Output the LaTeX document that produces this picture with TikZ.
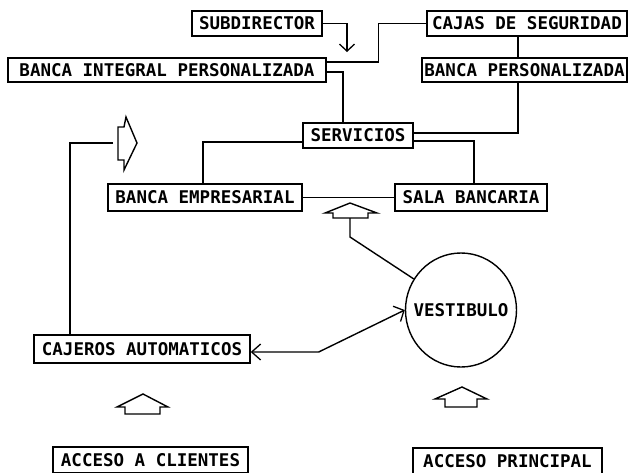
\documentclass[tikz,border=0pt]{standalone}
\usepackage{fontspec}
\setmonofont{DejaVu Sans Mono}
\usetikzlibrary{arrows.meta,shapes.geometric}
\begin{document}
\begin{tikzpicture}[x=1pt,y=-1pt,line width=1.4pt,
  every node/.style={font=\ttfamily\bfseries\fontsize{17.5}{20}\selectfont},
  box/.style={draw,inner sep=0pt,minimum height=25pt},
  barb/.style={-{Straight Barb[length=7pt,width=15pt,line width=1.3pt]}},
  dbarb/.style={{Straight Barb[length=9pt,width=16pt,line width=1.3pt]}-{Straight Barb[length=8pt,width=17pt,line width=1.3pt]}},
  blk/.style={line join=miter}]
\useasboundingbox (0,0) rectangle (630,472);
% boxes
\node[box,minimum width=130pt] (sub) at (257,23.5) {SUBDIRECTOR};
\node[box,minimum width=318pt,minimum height=24pt] (bip) at (167,70) {BANCA INTEGRAL PERSONALIZADA};
\node[box,minimum width=200pt] (cajas) at (527,23.5) {CAJAS DE SEGURIDAD};
\node[box,minimum width=205pt,minimum height=24pt] (bp) at (524.5,70) {BANCA PERSONALIZADA};
\node[box,minimum width=110pt] (serv) at (358,135.5) {SERVICIOS};
\node[box,minimum width=194pt,minimum height=27pt] (emp) at (205,197.5) {BANCA EMPRESARIAL};
\node[box,minimum width=152pt,minimum height=27pt] (sala) at (471,197.5) {SALA BANCARIA};
\node[draw,ellipse,inner sep=0pt,minimum width=111pt,minimum height=114pt,label={center:VESTIBULO}] (vest) at (461,310) {};
\node[box,minimum width=216pt,minimum height=28pt] (cajeros) at (142,349) {CAJEROS AUTOMATICOS};
\node[box,minimum width=195pt,minimum height=26pt] (acl) at (150.5,460) {ACCESO A CLIENTES};
\node[box,minimum width=189pt,minimum height=26pt] (apr) at (507.5,461) {ACCESO PRINCIPAL};
% free ends
\coordinate (subt) at (347,52);
\coordinate (ua) at (350,218);
\coordinate (la) at (113,143);
% connectors
\draw[barb] (sub.east) -| (subt);
\draw ([yshift=8pt]bip.east) -- ++(52,0) |- (cajas.west);
\draw ([yshift=-2pt]bip.east) -| ([xshift=-15pt]serv.north);
\draw (518,0 |- cajas.south) -- (518,0 |- bp.north);
\draw (518,0 |- bp.south) |- ([yshift=2.5pt]serv.east);
\draw ([yshift=-5.5pt]serv.east) -| (474,0 |- sala.north);
\draw ([yshift=-6.5pt]serv.west) -| (203,0 |- emp.north);
\draw (emp.east) -- (emp.east -| sala.west);
\draw (ua) -- ++(0,19) -- (vest);
\draw (la) -| (70,0 |- cajeros.north);
\draw[dbarb] ([yshift=-3pt]cajeros.east) -- ++(68,0) -- (vest.west);
% hollow block arrows
\draw[blk] (350,203) -- (325,213) -- (333,213) -- (333,218) -- (368,218) -- (368,213) -- (377,213) -- cycle;
\draw[blk] (118,127) -- (124,127) -- (126,117) -- (137,143) -- (124,170) -- (124,160) -- (118,160) -- cycle;
\draw[blk] (143,394) -- (117,407) -- (125,407) -- (125,414) -- (160,414) -- (160,407) -- (168,407) -- cycle;
\draw[blk] (462,387) -- (435,399) -- (445,399) -- (445,407) -- (477,407) -- (477,399) -- (487,399) -- cycle;
\end{tikzpicture}
\end{document}
